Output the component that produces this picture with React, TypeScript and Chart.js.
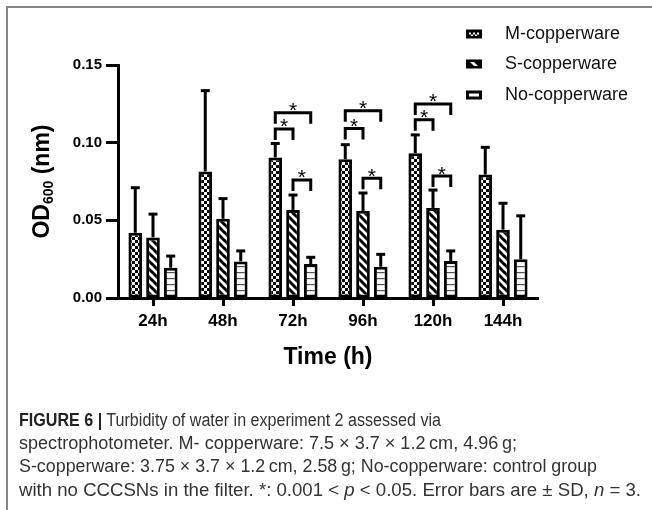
import React, { useEffect, useLayoutEffect, useRef } from 'react';
import { Chart, registerables } from 'chart.js';

Chart.register(...registerables);

// ---------- data ----------
const categories = ['24h', '48h', '72h', '96h', '120h', '144h'];
const seriesNames = ['M-copperware', 'S-copperware', 'No-copperware'];

const mMeans = [0.042, 0.0815, 0.0905, 0.0893, 0.0932, 0.0795];
const mSD = [0.029, 0.052, 0.009, 0.0094, 0.0118, 0.0175];
const sMeans = [0.039, 0.051, 0.0567, 0.0561, 0.058, 0.044];
const sSD = [0.015, 0.013, 0.0096, 0.0115, 0.0115, 0.017];
const noMeans = [0.0195, 0.0235, 0.0219, 0.0201, 0.0238, 0.0249];
const noSD = [0.0075, 0.0068, 0.0043, 0.008, 0.0065, 0.028];

const yTicks = [0, 0.05, 0.1, 0.15];

// significance bracket heights (OD600) per category; null = no bracket
const sigMvsS = [null, null, 0.1088, 0.1092, 0.1147, null];
const sigMvsNo = [null, null, 0.1193, 0.1206, 0.1249, null];
const sigSvsNo = [null, null, 0.076, 0.0771, 0.0785, null];

const xTitle = 'Time (h)';
const yTitleMain = 'OD';
const yTitleSub = '600';
const yTitleRest = ' (nm)';

const FONT = '"Liberation Sans", Arial, Helvetica, sans-serif';

// ---------- patterns ----------
function makePattern(kind: string): CanvasPattern | string {
  const c = document.createElement('canvas');
  const g = c.getContext('2d');
  if (!g) return '#fff';
  if (kind === 'check') {
    c.width = 6; c.height = 6;
    g.fillStyle = '#000'; g.fillRect(0, 0, 6, 6);
    g.fillStyle = '#fff';
    g.fillRect(0, 0, 3, 3);
    g.fillRect(3, 3, 3, 3);
  } else if (kind === 'diag') {
    c.width = 8; c.height = 8;
    g.fillStyle = '#fff'; g.fillRect(0, 0, 8, 8);
    g.strokeStyle = '#000'; g.lineWidth = 3;
    for (const o of [-8, 0, 8]) {
      g.beginPath(); g.moveTo(o - 2, -2); g.lineTo(o + 10, 10); g.stroke();
    }
  } else {
    c.width = 4; c.height = 6;
    g.fillStyle = '#fff'; g.fillRect(0, 0, 4, 6);
    g.fillStyle = '#555'; g.fillRect(0, 2, 4, 1.2);
  }
  return g.createPattern(c, 'repeat') as CanvasPattern;
}

const captionTargets = [422, 498, 578, 622];

export default function App() {
  const canvasRef = useRef<HTMLCanvasElement>(null);
  const lineRefs = useRef<(HTMLSpanElement | null)[]>([]);

  useLayoutEffect(() => {
    lineRefs.current.forEach((el, k) => {
      if (!el) return;
      const w = el.getBoundingClientRect().width;
      if (w > 0) el.style.transform = `scaleX(${captionTargets[k] / w})`;
    });
  }, []);

  useEffect(() => {
    const canvas = canvasRef.current;
    if (!canvas) return;
    const patM = makePattern('check');
    const patS = makePattern('diag');
    const patN = makePattern('lines');
    const means = [mMeans, sMeans, noMeans];
    const sds = [mSD, sSD, noSD];

    const overlay = {
      id: 'overlay',
      afterDatasetsDraw(chart: any) {
        const ctx: CanvasRenderingContext2D = chart.ctx;
        const ys = chart.scales.y;
        ctx.save();
        ctx.strokeStyle = '#000';
        ctx.lineWidth = 3;
        ctx.lineCap = 'butt';
        ctx.lineJoin = 'miter';
        // error bars (upper only)
        for (let d = 0; d < 3; d++) {
          const meta = chart.getDatasetMeta(d);
          meta.data.forEach((bar: any, i: number) => {
            const top = ys.getPixelForValue(means[d][i] + sds[d][i]);
            ctx.beginPath();
            ctx.moveTo(bar.x, bar.y);
            ctx.lineTo(bar.x, top);
            ctx.stroke();
            ctx.beginPath();
            ctx.moveTo(bar.x - 4.5, top);
            ctx.lineTo(bar.x + 4.5, top);
            ctx.stroke();
          });
        }
        // significance brackets
        const pairs: [number, number, (number | null)[]][] = [
          [0, 1, sigMvsS], [0, 2, sigMvsNo], [1, 2, sigSvsNo],
        ];
        const LEG = 11;
        ctx.fillStyle = '#000';
        ctx.font = `21px ${FONT}`;
        ctx.textAlign = 'center';
        ctx.textBaseline = 'alphabetic';
        pairs.forEach(([a, b, arr]) => {
          arr.forEach((v, i) => {
            if (v == null) return;
            const xa = chart.getDatasetMeta(a).data[i].x;
            const xb = chart.getDatasetMeta(b).data[i].x;
            const py = ys.getPixelForValue(v);
            ctx.beginPath();
            ctx.moveTo(xa, py + LEG);
            ctx.lineTo(xa, py);
            ctx.lineTo(xb, py);
            ctx.lineTo(xb, py + LEG);
            ctx.stroke();
            ctx.fillText('*', (xa + xb) / 2, py + 4.5);
          });
        });
        ctx.restore();
      },
      afterDraw(chart: any) {
        const ctx: CanvasRenderingContext2D = chart.ctx;
        const area = chart.chartArea;
        ctx.save();
        ctx.fillStyle = '#000';
        // x title
        ctx.font = `bold 23px ${FONT}`;
        ctx.textAlign = 'center';
        ctx.textBaseline = 'middle';
        ctx.fillText(xTitle, (area.left + area.right) / 2, 358);
        // y title with subscript
        ctx.save();
        ctx.translate(49, (area.top + area.bottom) / 2);
        ctx.rotate(-Math.PI / 2);
        ctx.textAlign = 'left';
        ctx.textBaseline = 'alphabetic';
        const big = `bold 23px ${FONT}`;
        const small = `bold 14px ${FONT}`;
        ctx.font = big;
        const w1 = ctx.measureText(yTitleMain).width;
        const w3 = ctx.measureText(yTitleRest).width;
        ctx.font = small;
        const w2 = ctx.measureText(yTitleSub).width;
        let x = -(w1 + w2 + w3) / 2;
        ctx.font = big;
        ctx.fillText(yTitleMain, x, 0);
        x += w1;
        ctx.font = small;
        ctx.fillText(yTitleSub, x, 4);
        x += w2;
        ctx.font = big;
        ctx.fillText(yTitleRest, x, 0);
        ctx.restore();
        // legend
        const rows = [34, 64, 95];
        ctx.font = `18px ${FONT}`;
        ctx.textAlign = 'left';
        ctx.textBaseline = 'middle';
        seriesNames.forEach((name, k) => {
          const cy = rows[k];
          ctx.fillStyle = '#000';
          ctx.fillRect(466, cy - 4.5, 16, 9);
          ctx.fillStyle = '#fff';
          if (k === 0) {
            for (const dx of [3, 7, 11]) ctx.fillRect(466 + dx, cy - 1.5, 2, 2);
            ctx.fillRect(466 + 5, cy + 0.5, 2, 1.5);
            ctx.fillRect(466 + 9, cy + 0.5, 2, 1.5);
          } else if (k === 1) {
            ctx.beginPath();
            ctx.moveTo(466 + 4, cy - 2);
            ctx.lineTo(466 + 8, cy - 2);
            ctx.lineTo(466 + 12, cy + 2);
            ctx.lineTo(466 + 8, cy + 2);
            ctx.closePath();
            ctx.fill();
          } else {
            ctx.fillRect(466 + 3, cy - 1.5, 10, 3);
          }
          ctx.fillStyle = '#111';
          ctx.fillText(name, 505, cy);
        });
        ctx.restore();
      },
    };

    const chart = new Chart(canvas, {
      type: 'bar',
      data: {
        labels: categories,
        datasets: [
          { label: seriesNames[0], data: mMeans, backgroundColor: patM as any, borderColor: '#000', borderWidth: 3, borderSkipped: false },
          { label: seriesNames[1], data: sMeans, backgroundColor: patS as any, borderColor: '#000', borderWidth: 3, borderSkipped: false },
          { label: seriesNames[2], data: noMeans, backgroundColor: patN as any, borderColor: '#000', borderWidth: 3, borderSkipped: false },
        ],
      },
      options: {
        responsive: false,
        animation: false,
        devicePixelRatio: 1,
        layout: { padding: { top: 65, right: 114, left: 0, bottom: 0 } },
        datasets: { bar: { categoryPercentage: 0.76, barPercentage: 0.77 } },
        plugins: { legend: { display: false }, tooltip: { enabled: false } },
        scales: {
          x: {
            grid: { display: true, drawOnChartArea: false, offset: false, tickLength: 8, tickWidth: 3, tickColor: '#000' },
            border: { display: true, color: '#000', width: 3 },
            ticks: { color: '#000', font: { family: FONT, size: 17, weight: 'bold' }, padding: 5, maxRotation: 0, autoSkip: false },
            afterFit: (s: any) => { s.height = 102; },
          },
          y: {
            min: 0,
            max: 0.15,
            afterBuildTicks: (s: any) => { s.ticks = yTicks.map((v) => ({ value: v })); },
            ticks: { color: '#000', font: { family: FONT, size: 15, weight: 'bold' }, padding: 4, callback: (v: any) => Number(v).toFixed(2) },
            grid: { display: true, drawOnChartArea: false, tickLength: 12, tickWidth: 3, tickColor: '#000' },
            border: { display: true, color: '#000', width: 3 },
            afterFit: (s: any) => { s.width = 118; },
          },
        },
      } as any,
      plugins: [overlay],
    });
    return () => chart.destroy();
  }, []);

  const capLine: React.CSSProperties = { position: 'absolute', left: 0, whiteSpace: 'nowrap', lineHeight: '23px' };
  const capSpan: React.CSSProperties = { display: 'inline-block', transformOrigin: '0 0' };

  return (
    <div style={{ position: 'absolute', left: 0, top: 0, width: 652, height: 510, overflow: 'hidden', background: '#fff' }}>
      <canvas ref={canvasRef} width={652} height={400} style={{ position: 'absolute', left: 0, top: 0, width: 652, height: 400 }} />
      <div style={{ position: 'absolute', left: 6, top: 6, width: 700, height: 600, borderTop: '2px solid #858585', borderLeft: '2px solid #858585' }} />
      <div style={{ position: 'absolute', left: 19, top: 0, fontFamily: '"Liberation Sans Narrow", "Liberation Sans", Arial, sans-serif', fontSize: 18, color: '#333' }}>
        <div style={{ ...capLine, top: 408.5 }}><span ref={(e) => { lineRefs.current[0] = e; }} style={capSpan}><b style={{ color: '#222' }}>FIGURE 6 |</b> Turbidity of water in experiment 2 assessed via</span></div>
        <div style={{ ...capLine, top: 432 }}><span ref={(e) => { lineRefs.current[1] = e; }} style={capSpan}>spectrophotometer. M- copperware: 7.5 × 3.7 × 1.2{'\u2009'}cm, 4.96{'\u2009'}g;</span></div>
        <div style={{ ...capLine, top: 455 }}><span ref={(e) => { lineRefs.current[2] = e; }} style={capSpan}>S-copperware: 3.75 × 3.7 × 1.2{'\u2009'}cm, 2.58{'\u2009'}g; No-copperware: control group</span></div>
        <div style={{ ...capLine, top: 478.5 }}><span ref={(e) => { lineRefs.current[3] = e; }} style={capSpan}>with no CCCSNs in the filter. *: 0.001 &lt; <i>p</i> &lt; 0.05. Error bars are ± SD, <i>n</i> = 3.</span></div>
      </div>
    </div>
  );
}
